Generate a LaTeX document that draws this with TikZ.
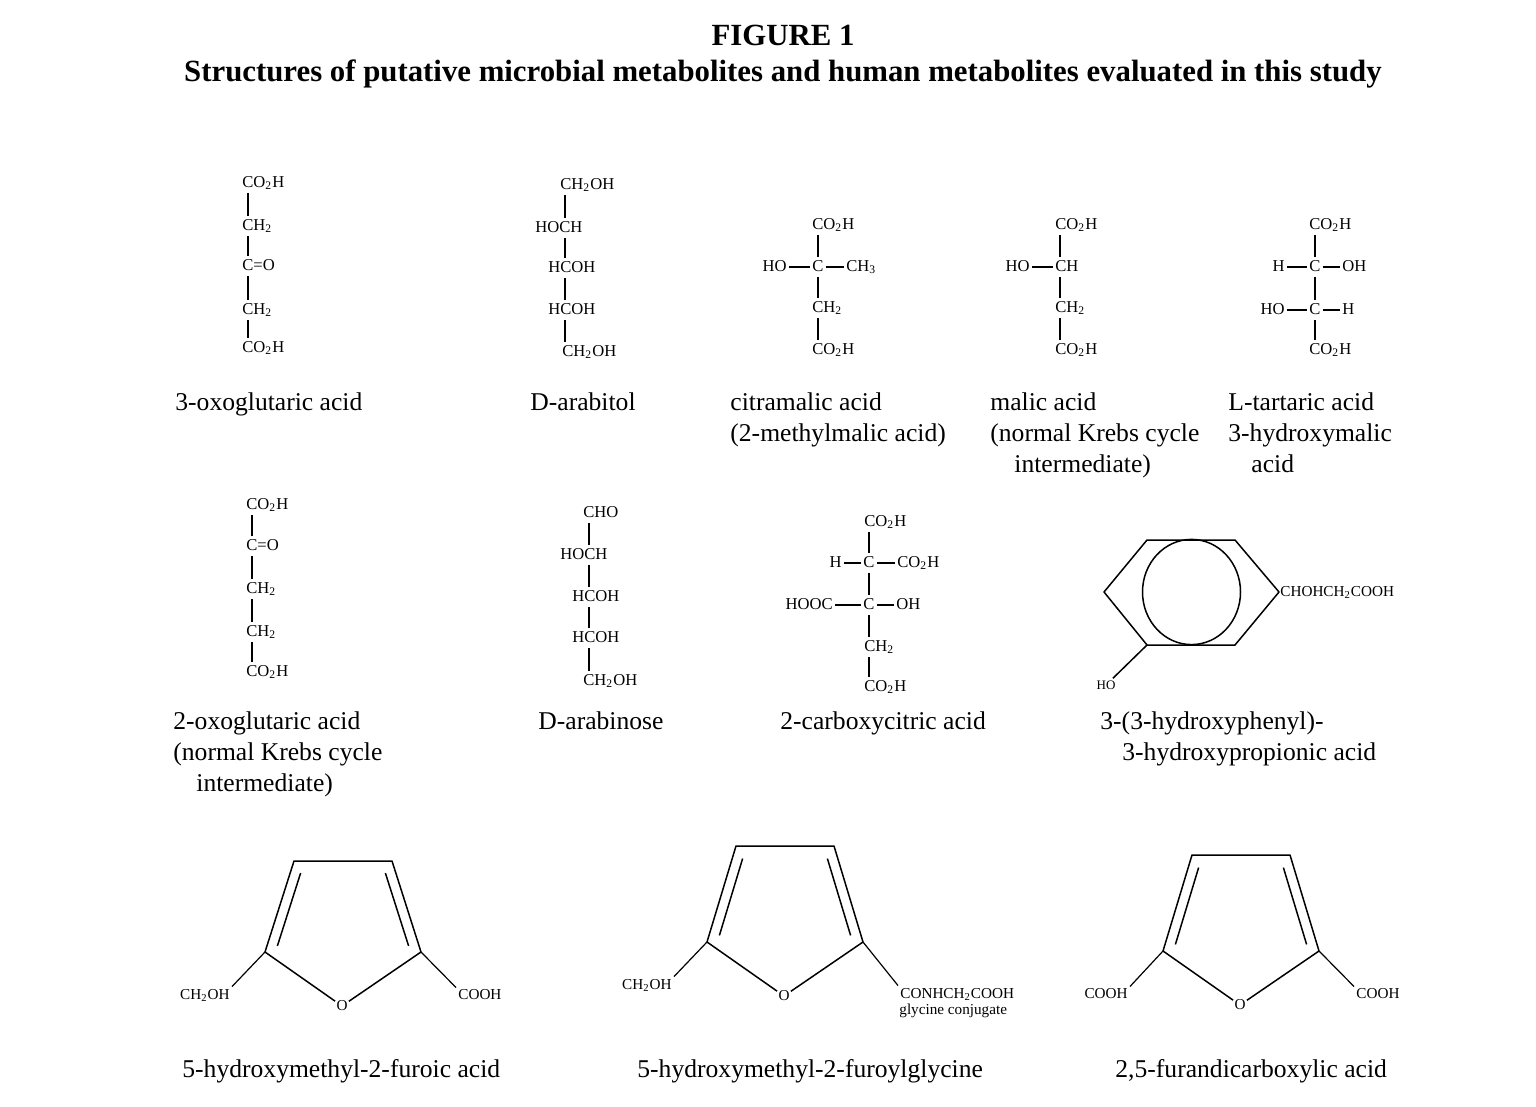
\documentclass[tikz,border=0pt]{standalone}
\usepackage{fontspec}
\setmainfont{Liberation Serif}
\usetikzlibrary{calc}
\tikzset{
  % formula groups
  grp/.style={inner sep=1pt, text height=6pt, text depth=1.6pt,
    font=\fontsize{8.3}{10}\selectfont},
  sgrp/.style={inner sep=1pt, font=\fontsize{7.6}{9}\selectfont},
  % compound names (base = last line)
  lbl/.style={anchor=base west, align=left, inner sep=0pt,
    font=\fontsize{12.8}{15.5}\selectfont},
  bond/.style={line width=0.6pt},
  ring/.style={line width=0.75pt, line join=round},
}
\begin{document}
\begin{tikzpicture}[x=0.5pt, y=-0.5pt]
\useasboundingbox (0,0) rectangle (1536,1107);

\node (title) [font=\bfseries\fontsize{15.4}{18}\selectfont, align=center]
  at (783,57) {FIGURE 1\\Structures of putative microbial metabolites and human metabolites evaluated in this study};

% 3-oxoglutaric acid
\coordinate (oxa) at (248,0);
\node (oxa1) [grp, anchor=west] at (240,183) {CO\textsubscript{2}H};
\node (oxa2) [grp, anchor=west] at (240,226) {CH\textsubscript{2}};
\node (oxa3) [grp, anchor=west] at (240,266) {C=O};
\node (oxa4) [grp, anchor=west] at (240,310) {CH\textsubscript{2}};
\node (oxa5) [grp, anchor=west] at (240,348) {CO\textsubscript{2}H};
\foreach \a/\b in {1/2,2/3,3/4,4/5}
  \draw[bond] (oxa\a.south -| oxa) -- (oxa\b.north -| oxa);
\node (lbOxa) [lbl] at (175,410) {3-oxoglutaric acid};

% D-arabitol
\coordinate (arb) at (565,0);
\node (arb1) [grp, anchor=west] at (558,185) {CH\textsubscript{2}OH};
\node (arb2) [grp, anchor=west] at (533,228) {HOCH};
\node (arb3) [grp, anchor=west] at (546,268) {HCOH};
\node (arb4) [grp, anchor=west] at (546,310) {HCOH};
\node (arb5) [grp, anchor=west] at (560,352) {CH\textsubscript{2}OH};
\foreach \a/\b in {1/2,2/3,3/4,4/5}
  \draw[bond] (arb\a.south -| arb) -- (arb\b.north -| arb);
\node (lbArb) [lbl] at (530,410) {D-arabitol};

% citramalic acid
\node (cit1) [grp, anchor=west] at (810,225) {CO\textsubscript{2}H};
\node (citC) [grp] at (818,267) {C};
\node (citHO) [grp, anchor=east] at (789,267) {HO};
\node (citMe) [grp, anchor=west] at (844,267) {CH\textsubscript{3}};
\node (cit3) [grp, anchor=west] at (810,308) {CH\textsubscript{2}};
\node (cit4) [grp, anchor=west] at (810,350) {CO\textsubscript{2}H};
\draw[bond] (cit1.south -| citC) -- (citC);
\draw[bond] (citC) -- (cit3.north -| citC);
\draw[bond] (cit3.south -| citC) -- (cit4.north -| citC);
\draw[bond] (citHO) -- (citC);
\draw[bond] (citC) -- (citMe);
\node (lbCit) [lbl] at (730,441) {citramalic acid\\(2-methylmalic acid)};

% malic acid
\coordinate (mal) at (1060,0);
\node (mal1) [grp, anchor=west] at (1053,225) {CO\textsubscript{2}H};
\node (mal2) [grp, anchor=west] at (1053,267) {CH};
\node (malHO) [grp, anchor=east] at (1032,267) {HO};
\node (mal3) [grp, anchor=west] at (1053,308) {CH\textsubscript{2}};
\node (mal4) [grp, anchor=west] at (1053,350) {CO\textsubscript{2}H};
\foreach \a/\b in {1/2,2/3,3/4}
  \draw[bond] (mal\a.south -| mal) -- (mal\b.north -| mal);
\draw[bond] (malHO) -- (mal2);
\node (lbMal) [lbl] at (990,472) {malic acid\\(normal Krebs cycle\\\hspace*{12pt}intermediate)};

% L-tartaric acid
\node (tar1) [grp, anchor=west] at (1307,225) {CO\textsubscript{2}H};
\node (tarC1) [grp] at (1315,267) {C};
\node (tarH1) [grp, anchor=east] at (1287,267) {H};
\node (tarOH) [grp, anchor=west] at (1340,267) {OH};
\node (tarC2) [grp] at (1315,310) {C};
\node (tarHO) [grp, anchor=east] at (1287,310) {HO};
\node (tarH2) [grp, anchor=west] at (1340,310) {H};
\node (tar4) [grp, anchor=west] at (1307,350) {CO\textsubscript{2}H};
\draw[bond] (tar1.south -| tarC1) -- (tarC1);
\draw[bond] (tarC1) -- (tarC2);
\draw[bond] (tarC2) -- (tar4.north -| tarC2);
\draw[bond] (tarH1) -- (tarC1);
\draw[bond] (tarC1) -- (tarOH);
\draw[bond] (tarHO) -- (tarC2);
\draw[bond] (tarC2) -- (tarH2);
\node (lbTar) [lbl] at (1228,472) {L-tartaric acid\\3-hydroxymalic\\\hspace*{11.5pt}acid};

% 2-oxoglutaric acid
\coordinate (oxb) at (252,0);
\node (oxb1) [grp, anchor=west] at (244,505) {CO\textsubscript{2}H};
\node (oxb2) [grp, anchor=west] at (244,546) {C=O};
\node (oxb3) [grp, anchor=west] at (244,589) {CH\textsubscript{2}};
\node (oxb4) [grp, anchor=west] at (244,632) {CH\textsubscript{2}};
\node (oxb5) [grp, anchor=west] at (244,672) {CO\textsubscript{2}H};
\foreach \a/\b in {1/2,2/3,3/4,4/5}
  \draw[bond] (oxb\a.south -| oxb) -- (oxb\b.north -| oxb);
\node (lbOxb) [lbl] at (173,791) {2-oxoglutaric acid\\(normal Krebs cycle\\\hspace*{11.5pt}intermediate)};

% D-arabinose
\coordinate (abn) at (589,0);
\node (abn1) [grp, anchor=west] at (581,513) {CHO};
\node (abn2) [grp, anchor=west] at (558,555) {HOCH};
\node (abn3) [grp, anchor=west] at (570,597) {HCOH};
\node (abn4) [grp, anchor=west] at (570,638) {HCOH};
\node (abn5) [grp, anchor=west] at (581,681) {CH\textsubscript{2}OH};
\foreach \a/\b in {1/2,2/3,3/4,4/5}
  \draw[bond] (abn\a.south -| abn) -- (abn\b.north -| abn);
\node (lbAbn) [lbl] at (538,729) {D-arabinose};

% 2-carboxycitric acid
\node (cbc1) [grp, anchor=west] at (862,522) {CO\textsubscript{2}H};
\node (cbcC1) [grp] at (869,563) {C};
\node (cbcH) [grp, anchor=east] at (844,563) {H};
\node (cbcR) [grp, anchor=west] at (895,563) {CO\textsubscript{2}H};
\node (cbcC2) [grp] at (869,605) {C};
\node (cbcL) [grp, anchor=east] at (835,605) {HOOC};
\node (cbcOH) [grp, anchor=west] at (894,605) {OH};
\node (cbc3) [grp, anchor=west] at (862,647) {CH\textsubscript{2}};
\node (cbc4) [grp, anchor=west] at (862,687) {CO\textsubscript{2}H};
\draw[bond] (cbc1.south -| cbcC1) -- (cbcC1);
\draw[bond] (cbcC1) -- (cbcC2);
\draw[bond] (cbcC2) -- (cbc3.north -| cbcC2);
\draw[bond] (cbc3.south -| cbcC2) -- (cbc4.north -| cbcC2);
\draw[bond] (cbcH) -- (cbcC1);
\draw[bond] (cbcC1) -- (cbcR);
\draw[bond] (cbcL) -- (cbcC2);
\draw[bond] (cbcC2) -- (cbcOH);
\node (lbCbc) [lbl] at (780,729) {2-carboxycitric acid};

% 3-(3-hydroxyphenyl)-3-hydroxypropionic acid
\coordinate (hp1) at (1104,592);
\coordinate (hp2) at (1147,540);
\coordinate (hp3) at (1235,540);
\coordinate (hp4) at (1279,592);
\coordinate (hp5) at (1235,645);
\coordinate (hp6) at (1147,645);
\coordinate (hpc) at ($(hp1)!0.5!(hp4)$);
\draw[ring] (hp1) -- (hp2) -- (hp3) -- (hp4) -- (hp5) -- (hp6) -- cycle;
\draw[ring] (hpc) ellipse [x radius=24.5pt, y radius=26.3pt];
\node (hpSide) [sgrp, anchor=west, inner sep=0.5pt] at (hp4) {CHOHCH\textsubscript{2}COOH};
\node (hpHO) [sgrp, font=\fontsize{6.5}{8}\selectfont] at (1106,685) {HO};
\draw[ring] (hp6) -- (hpHO);
\node (lbHpp) [lbl] at (1100,760) {3-(3-hydroxyphenyl)-\\\hspace*{11pt}3-hydroxypropionic acid};

% furans
\foreach \i/\x/\y/\h/\ry/\lsub/\rsub in
  {1/265/952/91/43/{CH\textsubscript{2}OH}/COOH,
   2/707/942/96/52/{CH\textsubscript{2}OH}/{CONHCH\textsubscript{2}COOH},
   3/1163/951/96/43/COOH/COOH}{
  \coordinate (fl\i) at (\x,\y);
  \coordinate (ftl\i) at ($(fl\i)+(29,-\h)$);
  \coordinate (ftr\i) at ($(fl\i)+(127,-\h)$);
  \coordinate (fr\i) at ($(fl\i)+(156,0)$);
  \node (fo\i) [sgrp, inner sep=0.5pt] at ($(fl\i)+(77,54)$) {O};
  \draw[ring] (fo\i) -- (fl\i) -- (ftl\i) -- (ftr\i) -- (fr\i) -- (fo\i);
  \draw[ring] ($(fl\i)!0.1!(ftl\i)+(9.5,3)$) -- ($(fl\i)!0.9!(ftl\i)+(9.5,3)$);
  \draw[ring] ($(fr\i)!0.1!(ftr\i)+(-9.5,3)$) -- ($(fr\i)!0.9!(ftr\i)+(-9.5,3)$);
  \node (fsl\i) [sgrp, anchor=east] at ($(fl\i)+(-33,43)$) {\lsub};
  \node (fsr\i) [sgrp, anchor=west] at ($(fr\i)+(35,\ry)$) {\rsub};
  \draw[bond] (fl\i) -- (fsl\i.north east);
  \draw[bond] (fr\i) -- (fsr\i.north west);
}
\node (gly) [sgrp, anchor=north west, inner sep=0.5pt] at (fsr2.south west) {glycine conjugate};
\node (lbFur) [lbl] at (182,1077) {5-hydroxymethyl-2-furoic acid};
\node (lbGly) [lbl] at (637,1077) {5-hydroxymethyl-2-furoylglycine};
\node (lbFdc) [lbl] at (1115,1077) {2,5-furandicarboxylic acid};
\end{tikzpicture}
\end{document}
